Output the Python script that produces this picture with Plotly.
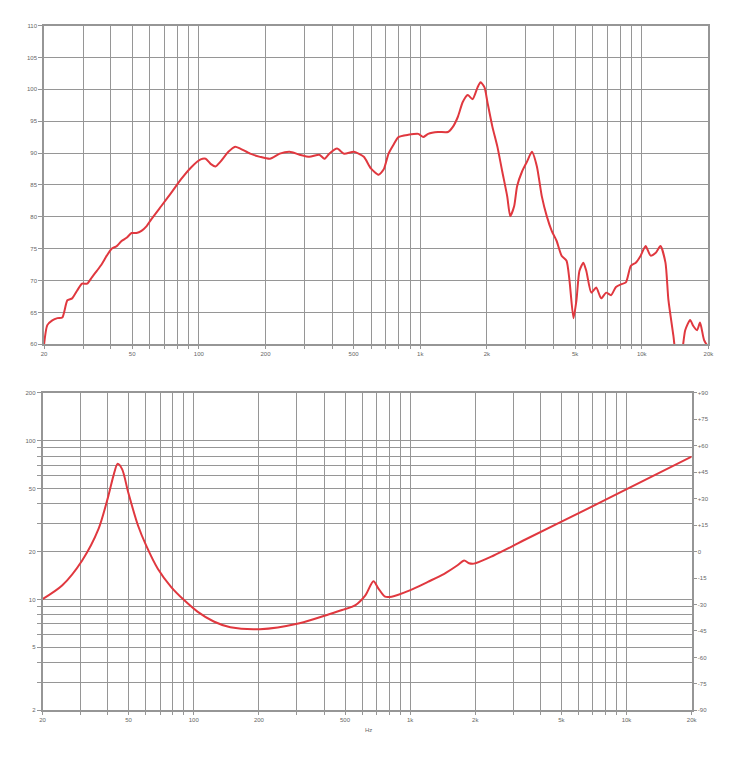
import plotly.graph_objects as go

# ---- SPL response (top chart) ----
spl_freq = [20, 20.7, 21.8, 23.0, 24.2, 25.5, 26.8, 28.2, 29.7, 31.3, 32.9, 34.7, 36.5, 38.4, 40.4,
            42.6, 44.8, 47.2, 49.7, 52.3, 55.1, 58.0, 61.0, 67.6, 74.9, 83.0, 92.0, 102, 107.4, 113,
            119, 125.3, 136, 146, 153.8, 170.6, 189, 209.5, 232, 257, 285, 316, 350, 369, 388, 421,
            453, 502, 556, 598, 649, 683, 719, 757, 797, 883, 980, 1031, 1085, 1202, 1333, 1403,
            1477, 1555, 1637, 1723, 1814, 1871, 1950, 2009, 2117, 2229, 2345, 2469, 2547, 2653,
            2736, 2881, 3033, 3192, 3361, 3538, 3724, 3921, 4128, 4345, 4574, 4718, 4916, 5071,
            5230, 5449, 5620, 5917, 6229, 6557, 6903, 7266, 7650, 8054, 8477, 8925, 9397, 9887,
            10410, 10963, 11535, 12146, 12794, 13188, 13886, 14470, 15070, 15710, 16534, 17060,
            17770, 18330, 19100, 19900]
spl_db = [59.9, 63.0, 63.75, 64.1, 64.2, 66.9, 67.2, 68.4, 69.5, 69.5, 70.5, 71.55, 72.6, 73.9, 75.0,
          75.4, 76.2, 76.7, 77.45, 77.45, 77.8, 78.5, 79.6, 81.65, 83.7, 85.85, 87.7, 89.0, 89.1, 88.3,
          87.9, 88.65, 90.2, 91.0, 90.7, 89.9, 89.4, 89.1, 89.9, 90.2, 89.74, 89.4, 89.74, 89.1, 89.9,
          90.7, 89.9, 90.2, 89.4, 87.6, 86.6, 87.4, 89.9, 91.3, 92.5, 92.85, 93.0, 92.5, 93.0,
          93.3, 93.3, 94.1, 95.65, 98.0, 99.1, 98.45, 100.3, 101.1, 100.3, 98.0, 94.1, 91.0, 87.1,
          83.2, 80.1, 81.65, 84.8, 87.1, 88.65, 90.2, 87.9, 83.2, 80.1, 77.8, 76.2, 73.9, 73.1,
          70.0, 64.1, 66.9, 71.5, 72.8, 71.5, 68.1, 68.9, 67.2, 68.1, 67.7, 69.0, 69.4, 69.7,
          72.3, 72.8, 73.9, 75.4, 73.9, 74.3, 75.4, 72.8, 67.0, 61.4, 57.0, 58.0, 62.2, 63.8, 62.9,
          62.2, 63.4, 60.7, 59.6]

# ---- Impedance (bottom chart) ----
imp_freq = [20, 24.7, 30.5, 36.3, 40.3, 42.5, 44.5, 46.7, 49.8, 55.3, 60.3, 68.2, 78.5, 90.2, 104,
            123.7, 147.5, 202, 308, 422, 485, 559, 621, 677, 714, 766, 821, 996, 1208, 1438, 1656,
            1777, 1872, 1972, 2434, 3006, 3337, 7212, 12200, 20000]
imp_ohm = [10.05, 12.29, 17.6, 27.8, 44.9, 59.8, 71.5, 65.9, 47.1, 29.1, 21.8, 15.6, 12.0, 9.9, 8.38,
           7.26, 6.68, 6.49, 7.08, 8.06, 8.57, 9.21, 10.6, 13.0, 11.7, 10.4, 10.4, 11.4, 12.9, 14.5,
           16.4, 17.6, 16.9, 16.8, 18.9, 21.8, 23.5, 39.5, 56.6, 79.4]

# ---- Axis ticks ----
x_grid = [20, 30, 40, 50, 60, 70, 80, 90, 100, 200, 300, 400, 500, 600, 700, 800, 900,
          1000, 2000, 3000, 4000, 5000, 6000, 7000, 8000, 9000, 10000, 20000]
x_labels = {20: "20", 50: "50", 100: "100", 200: "200", 500: "500", 1000: "1k", 2000: "2k",
            5000: "5k", 10000: "10k", 20000: "20k"}
spl_ticks = [60, 65, 70, 75, 80, 85, 90, 95, 100, 105, 110]
imp_grid = [2, 3, 4, 5, 6, 7, 8, 9, 10, 20, 30, 40, 50, 60, 70, 80, 90, 100, 200]
imp_labels = {2: "2", 5: "5", 10: "10", 20: "20", 50: "50", 100: "100", 200: "200"}
phase_ticks = [90, 75, 60, 45, 30, 15, 0, -15, -30, -45, -60, -75, -90]

W, H = 750, 757
GRID = "#969696"
RED = "#e0383f"
FONT = dict(family="Liberation Sans, Arial", size=6, color="#666")

fig = go.Figure()
fig.add_trace(go.Scatter(x=spl_freq, y=spl_db, mode="lines", line=dict(color=RED, width=2, shape="spline", smoothing=0.6),
                         xaxis="x", yaxis="y", showlegend=False))
fig.add_trace(go.Scatter(x=imp_freq, y=imp_ohm, mode="lines", line=dict(color=RED, width=2, shape="spline", smoothing=0.8),
                         xaxis="x2", yaxis="y2", showlegend=False))
# invisible trace to establish the phase axis
fig.add_trace(go.Scatter(x=[20, 20000], y=[None, None], mode="lines", xaxis="x2", yaxis="y3", showlegend=False))

def xaxis(dom, anchor):
    return dict(type="log", range=[1.30103, 4.30103], domain=dom, anchor=anchor,
                tickvals=x_grid, ticktext=[x_labels.get(v, "") for v in x_grid],
                showgrid=True, gridcolor=GRID, gridwidth=1.3, showline=True, linecolor=GRID,
                linewidth=1.6, mirror=True, ticks="outside", ticklen=3, tickcolor=GRID,
                tickfont=FONT, zeroline=False)

top_y0, top_y1 = 22.7, 344
bot_y0, bot_y1 = 393, 713

fig.update_layout(
    width=W, height=H, margin=dict(l=0, r=0, t=0, b=0),
    paper_bgcolor="white", plot_bgcolor="white",
    xaxis=xaxis([41.5 / W, 714 / W], "y"),
    yaxis=dict(range=[60, 110], domain=[1 - top_y1 / H, 1 - top_y0 / H], anchor="x",
               tickvals=spl_ticks, ticktext=[str(v) for v in spl_ticks],
               showgrid=True, gridcolor=GRID, gridwidth=1.3, showline=True, linecolor=GRID,
               linewidth=1.6, mirror=True, ticks="outside", ticklen=4, tickcolor=GRID,
               tickfont=FONT, zeroline=False),
    xaxis2=xaxis([40 / W, 697 / W], "y2"),
    yaxis2=dict(type="log", range=[0.30103, 2.30103], domain=[1 - bot_y1 / H, 1 - bot_y0 / H], anchor="x2",
                tickvals=imp_grid, ticktext=[imp_labels.get(v, "") for v in imp_grid],
                showgrid=True, gridcolor=GRID, gridwidth=1.3, showline=True, linecolor=GRID,
                linewidth=1.6, mirror=True, ticks="outside", ticklen=4, tickcolor=GRID,
                tickfont=FONT, zeroline=False),
    yaxis3=dict(range=[-90, 90], overlaying="y2", side="right", anchor="x2",
                tickvals=phase_ticks,
                ticktext=[("+%d" % v if v > 0 else str(v)) for v in phase_ticks],
                showgrid=False, showline=False, ticks="outside", ticklen=4, tickcolor=GRID,
                tickfont=FONT, zeroline=False),
    annotations=[dict(text="Hz", x=370 / W, y=1 - 738 / H, xref="paper", yref="paper",
                      showarrow=False, font=FONT)],
)

fig.write_html("out.html")
